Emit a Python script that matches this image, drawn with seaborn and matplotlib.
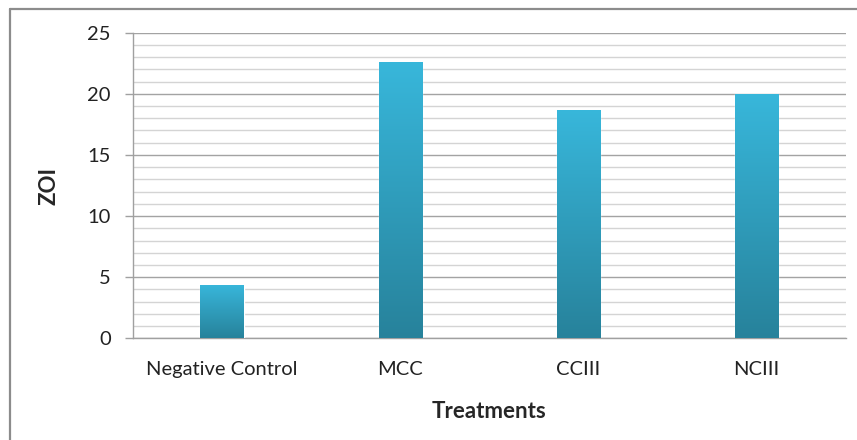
import numpy as np
import pandas as pd
import matplotlib
matplotlib.use("Agg")
import matplotlib.pyplot as plt
import seaborn as sns
from matplotlib.lines import Line2D
from matplotlib.ticker import MultipleLocator
from matplotlib.colors import LinearSegmentedColormap

treatments = ["Negative Control", "MCC", "CCIII", "NCIII"]
zoi = [4.4, 22.6, 18.7, 20.0]
y_ticks = [0, 5, 10, 15, 20, 25]

sns.set_theme(style="white")
plt.rcParams["font.family"] = ["Lato", "DejaVu Sans"]

fig = plt.figure(figsize=(8.57, 4.40), dpi=100)
ax = fig.add_axes([0.1552, 0.2311, 0.8314, 0.6946])

df = pd.DataFrame({"Treatments": treatments, "ZOI": zoi})
sns.barplot(data=df, x="Treatments", y="ZOI", ax=ax, width=0.243,
            color="#37B6DA", saturation=1, zorder=3)

# vertical gradient fill for each bar
grad_cmap = LinearSegmentedColormap.from_list("bar", ["#27829B", "#38B7DB"])
grad = np.linspace(0, 1, 256).reshape(-1, 1)
for patch in ax.patches:
    x0, y0 = patch.get_x(), patch.get_y()
    w, h = patch.get_width(), patch.get_height()
    im = ax.imshow(grad, cmap=grad_cmap, origin="lower", aspect="auto",
                   extent=[x0, x0 + w, y0, y0 + h], zorder=4)
    im.set_clip_path(patch)

ax.set_xlim(-0.5, 3.5)
ax.set_ylim(0, 25)
ax.set_yticks(y_ticks)
ax.yaxis.set_minor_locator(MultipleLocator(1))
ax.set_axisbelow(True)
ax.grid(which="minor", axis="y", color="#d4d4d4", lw=1.0, zorder=0)
ax.grid(which="major", axis="y", color="#a3a3a3", lw=1.0, zorder=0)

for side in ["top", "right"]:
    ax.spines[side].set_visible(False)
for side in ["left", "bottom"]:
    ax.spines[side].set_color("#a0a0a0")
    ax.spines[side].set_linewidth(1.0)

ax.tick_params(axis="y", which="major", direction="out", length=6,
               width=1, color="#a0a0a0", labelsize=14.5, pad=10,
               labelcolor="#222222", left=True)
ax.tick_params(axis="y", which="minor", length=0)
ax.tick_params(axis="x", length=0, labelsize=14.5, pad=16,
               labelcolor="#222222")

ax.set_xlabel("Treatments", fontsize=16, fontweight="bold", labelpad=17)
ax.set_ylabel("ZOI", fontsize=16, fontweight="bold", labelpad=20)

# frame edges of the chart area
fig.add_artist(Line2D([10 / 857, 10 / 857], [0, 1 - 9.5 / 440],
                      transform=fig.transFigure, color="#8c8c8c", lw=1.6))
fig.add_artist(Line2D([10 / 857, 1], [1 - 9.5 / 440, 1 - 9.5 / 440],
                      transform=fig.transFigure, color="#8c8c8c", lw=1.6))

fig.savefig("out.png", dpi=100)
